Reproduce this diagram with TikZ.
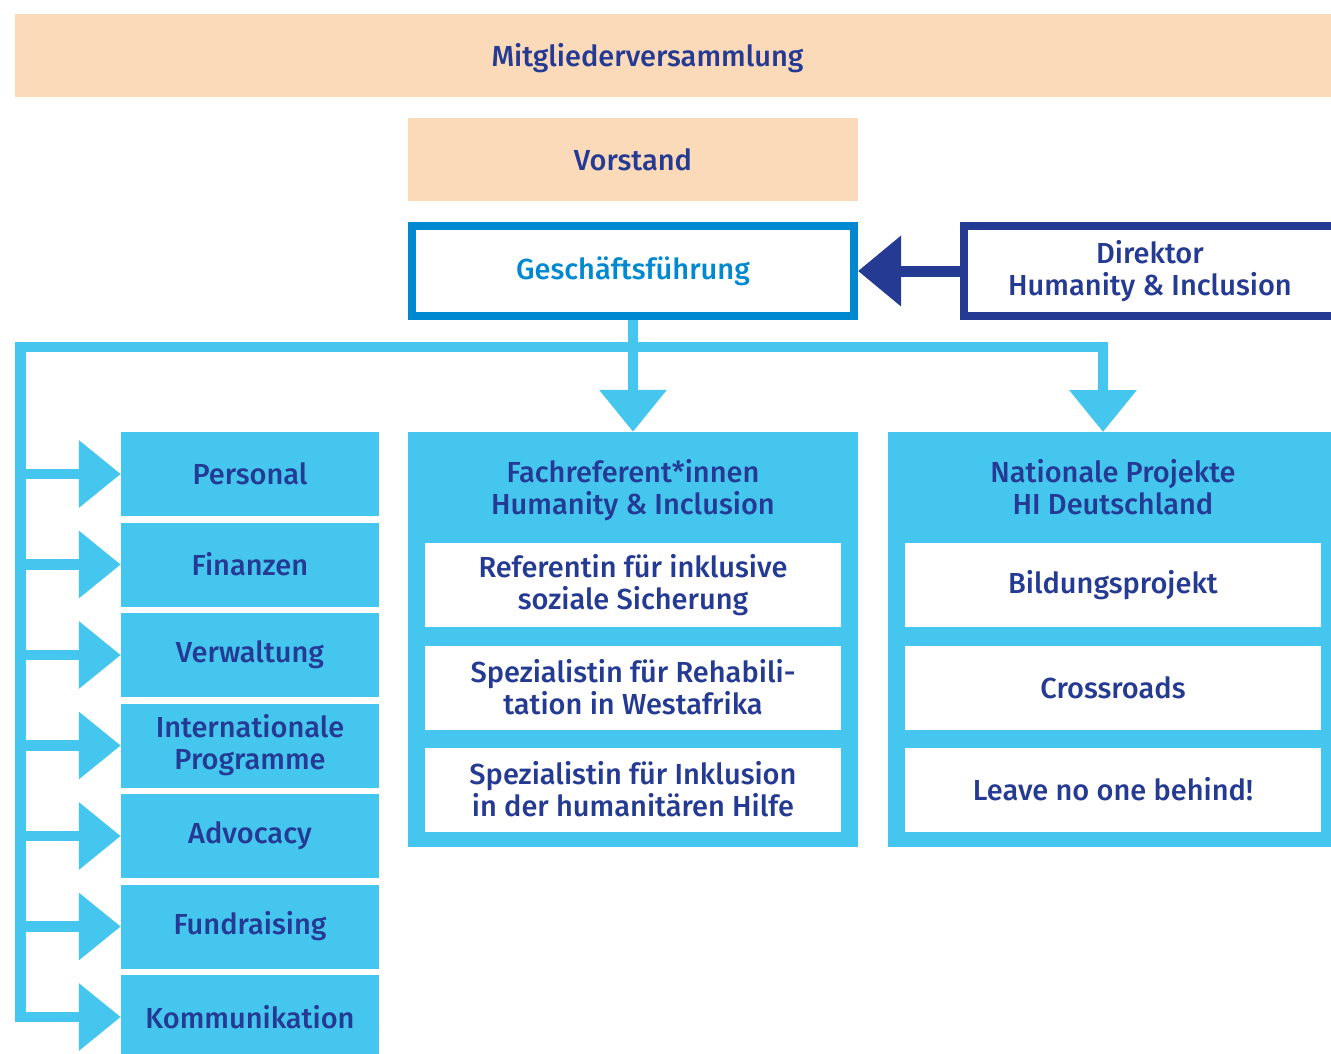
\documentclass[tikz,border=0pt]{standalone}
\usepackage{fontspec}
\setmainfont{Fira Sans}[UprightFont=* Medium]
\usetikzlibrary{arrows.meta}
\definecolor{peach}{HTML}{FADAB9}
\definecolor{sky}{HTML}{45C6EE}
\definecolor{ocean}{HTML}{0089D0}
\definecolor{navy}{HTML}{253A93}

\begin{document}
\begin{tikzpicture}[x=1pt,y=-1pt,
	every node/.style={font=\fontsize{29}{32}\selectfont,text=navy,align=center,inner sep=0pt},
	board/.style={fill=peach,minimum height=83pt},
	unit/.style={fill=sky,minimum width=258pt,minimum height=84pt},
	group/.style={fill=sky,minimum width=450pt,minimum height=415pt},
	post/.style={fill=white,minimum width=416pt,minimum height=84pt},
	hub/.style={draw=sky,line width=10.6pt,-{Triangle[length=42pt,width=65pt]}}]
	        \useasboundingbox (0,0) rectangle (1331,1053);

	        \node[board,minimum width=1325pt,label={[xshift=-30pt,yshift=-3pt]center:Mitgliederversammlung}] at (677.5,55.5) (mv) {};
	        \node[board,minimum width=450pt] at (633,159.5) (vs) {Vorstand};
	        \node[draw=ocean,line width=8pt,text=ocean,minimum width=442pt,minimum height=90pt] at (633,271) (gf) {Geschäftsführung};
	        \node[draw=navy,line width=8pt,minimum width=372pt,minimum height=90pt] at (1150,271) (dir) {Direktor\\Humanity \& Inclusion};

	        \node[unit] at (250,474) (per) {Personal};
	        \node[unit] at (250,564.5) (fin) {Finanzen};
	        \node[unit] at (250,655) (ver) {Verwaltung};
	        \node[unit] at (250,745.5) (int) {Internationale\\Programme};
	        \node[unit] at (250,836) (adv) {Advocacy};
	        \node[unit] at (250,926.5) (fun) {Fundraising};
	        \node[unit] at (250,1017) (kom) {Kommunikation};

	        \node[group] at (633,639.5) (fach) {};
	        \node at (633,490.5) (fachhead) {Fachreferent*innen\\Humanity \& Inclusion};
	        \node[post] at (633,585) (ref) {Referentin für inklusive\\soziale Sicherung};
	        \node[post] at (633,687.5) (reha) {Spezialistin für Rehabili-\\tation in Westafrika};
	        \node[post] at (633,789.5) (hilfe) {Spezialistin für Inklusion\\in der humanitären Hilfe};

	        \node[group] at (1113,639.5) (nat) {};
	        \node at (1113,487.5) (nathead) {Nationale Projekte\\HI Deutschland};
	        \node[post] at (1113,585) (bild) {Bildungsprojekt};
	        \node[post] at (1113,687.5) (cross) {Crossroads};
	        \node[post] at (1113,789.5) (lnob) {Leave no one behind!};

	        \coordinate (spine) at (20.7,347);
	        \coordinate (natin) at (1103,432);
		\draw[navy,line width=11pt,-{Triangle[length=43pt,width=68pt]}] (dir.west) -- (gf.east);
		\draw[hub] (gf.south) -- (fach.north);
		\draw[hub] (gf.south |- spine) -| (natin);
		\draw[hub] (gf.south |- spine) -- (spine) -- (spine |- kom.west) -- (kom.west);
		\draw[hub] (spine |- per.west) -- (per.west);
		\draw[hub] (spine |- fin.west) -- (fin.west);
		\draw[hub] (spine |- ver.west) -- (ver.west);
		\draw[hub] (spine |- int.west) -- (int.west);
		\draw[hub] (spine |- adv.west) -- (adv.west);
		\draw[hub] (spine |- fun.west) -- (fun.west);
		\end{tikzpicture}
\end{document}
